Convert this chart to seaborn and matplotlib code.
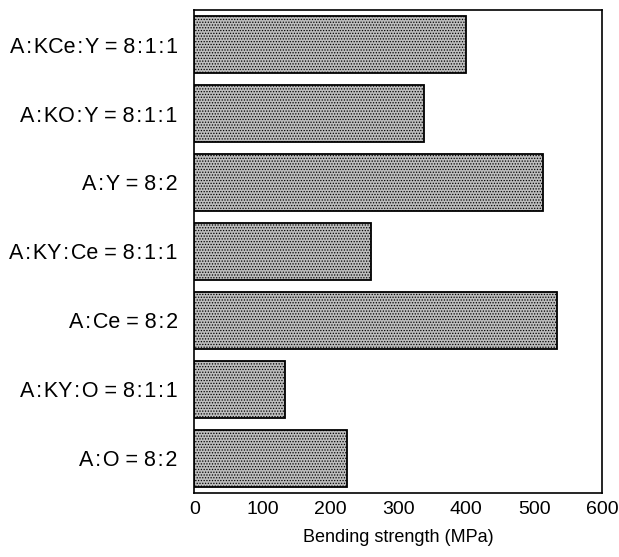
import matplotlib
matplotlib.use("Agg")
import matplotlib.pyplot as plt
import seaborn as sns
import numpy as np
import pandas as pd

categories = ["A:KCe:Y = 8:1:1", "A:KO:Y = 8:1:1", "A:Y = 8:2", "A:KY:Ce = 8:1:1",
              "A:Ce = 8:2", "A:KY:O = 8:1:1", "A:O = 8:2"]
strength = [400, 338, 513, 260, 533, 133, 225]
xticks = [0, 100, 200, 300, 400, 500, 600]

sns.set_theme(style="white")
plt.rcParams['font.family'] = ['Liberation Sans', 'DejaVu Sans']
plt.rcParams['hatch.linewidth'] = 0.6
plt.rcParams['hatch.color'] = '#505050'

df = pd.DataFrame({"cat": categories, "val": strength})

fig = plt.figure(figsize=(6.19, 5.57), dpi=100)
ax = fig.add_axes([0.314, 0.115, 0.659, 0.867])

sns.barplot(data=df, x="val", y="cat", orient="h", color="#bdbdbd", width=0.83,
            edgecolor="black", linewidth=1.3, saturation=1, ax=ax)
for p in ax.patches:
    p.set_hatch("......")

ax.set_xlim(0, 600)
ax.set_ylim(6.49, -0.49)
ax.set_xticks(xticks)
ax.set_xticklabels([str(t) for t in xticks], fontsize=14)
ax.tick_params(axis="x", direction="in", length=5, width=1.1, colors="black", pad=6)
ax.set_yticks(range(len(categories)))
ax.set_yticklabels([c.replace(":", "\u200a:\u200a") for c in categories])
ax.tick_params(axis="y", which="major", length=0, pad=12, labelsize=15.5, labelcolor="black")
ax.set_yticks(np.arange(-0.5, 7.0, 1.0), minor=True)
ax.tick_params(axis="y", which="minor", direction="out", length=4, width=1.1, color="black")
ax.set_xlabel("Bending strength (MPa)", fontsize=13, color="black", labelpad=8)
ax.set_ylabel("")
for s in ax.spines.values():
    s.set_visible(True)
    s.set_color("black")
    s.set_linewidth(1.2)

fig.savefig("out.png", dpi=100, facecolor="white")
